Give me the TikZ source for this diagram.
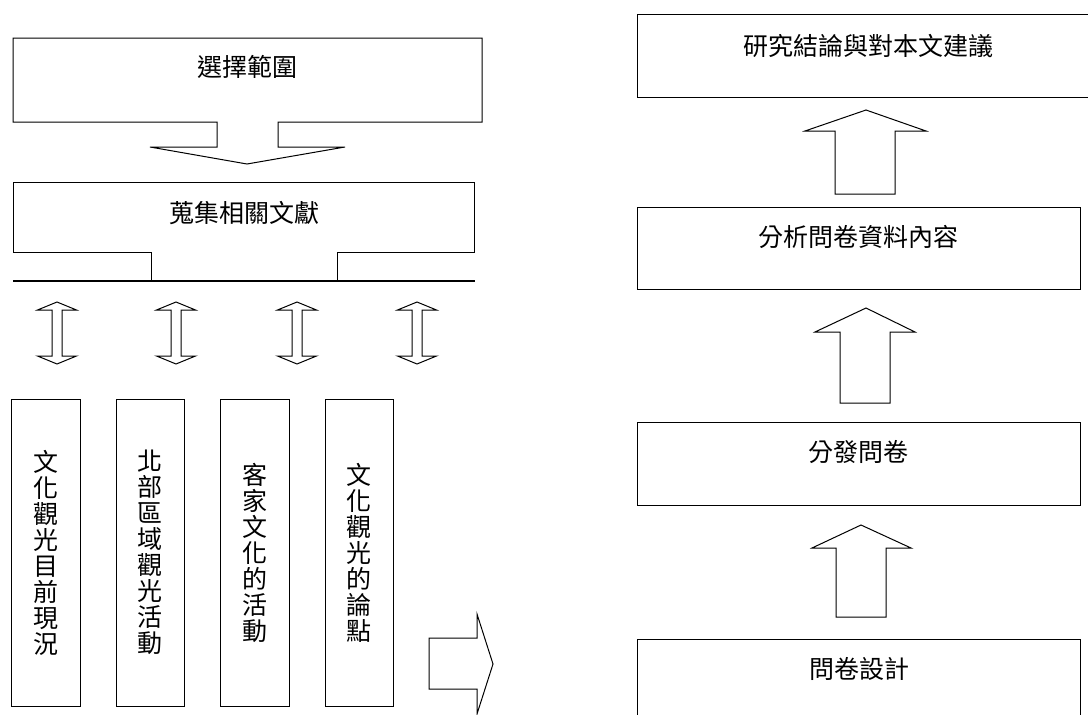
\documentclass[tikz,border=0pt]{standalone}
\usepackage{fontspec}
\newfontfamily\cjk{Noto Sans CJK TC}
\begin{document}
\begin{tikzpicture}[x=1pt,y=-1pt,line width=1pt,
  lbl/.style={inner sep=0pt,font=\cjk\fontsize{25}{26}\selectfont,text height=0.82em,text depth=0.12em},
  vlbl/.style={inner sep=0pt,align=center,font=\cjk\fontsize{25}{26}\selectfont},
  box/.style={draw,line width=1pt,inner sep=0pt},
  blk/.style={draw,line width=1pt,line join=miter,fill=white}]
\useasboundingbox (0,0) rectangle (1088,715);
\clip (0,0) rectangle (1088,715);
% top left box with arrow
\draw[blk] (13,38) -- (482,38) -- (482,122) -- (278,122) -- (278,147) -- (345,147) -- (247,164) -- (150,147) -- (217,147) -- (217,122) -- (13,122) -- cycle;
\node[lbl] (sel) at (247,73) {選擇範圍};
% second box with tab
\draw[blk,fill=none] (151,281) -- (151,252) -- (13,252) -- (13,182) -- (474,182) -- (474,252) -- (337,252) -- (337,281);
\draw[line width=1.6pt] (13,281) -- (475,281);
\node[lbl] (col) at (244,219) {蒐集相關文獻};
% double arrows
\foreach \cx in {57,176,297,417}{
  \draw[blk] (\cx,302) -- (\cx+19.5,310) -- (\cx+5,310) -- (\cx+5,356) -- (\cx+19.5,356) -- (\cx,364)
    -- (\cx-19.5,356) -- (\cx-5,356) -- (\cx-5,310) -- (\cx-19.5,310) -- cycle;
}
% vertical boxes
\node[box,minimum width=69pt,minimum height=307pt] (v1) at (45.5,552.5) {};
\node[box,minimum width=68pt,minimum height=307pt] (v2) at (150,552.5) {};
\node[box,minimum width=69pt,minimum height=307pt] (v3) at (254.5,552.5) {};
\node[box,minimum width=68pt,minimum height=307pt] (v4) at (359,552.5) {};
\node[vlbl] (t1) at (v1.center) {文\\化\\觀\\光\\目\\前\\現\\況};
\node[vlbl] (t2) at (v2.center) {北\\部\\區\\域\\觀\\光\\活\\動};
\node[vlbl] (t3) at (v3.center) {客\\家\\文\\化\\的\\活\\動};
\node[vlbl] (t4) at (v4.center) {文\\化\\觀\\光\\的\\論\\點};
% right arrow
\draw[blk] (429,638) -- (477,638) -- (477,614) -- (493,664) -- (477,714) -- (477,689) -- (429,689) -- cycle;
% right column boxes
\node[box,minimum width=462pt,minimum height=83pt] (r1) at (868,55.5) {};
\node[box,minimum width=443pt,minimum height=82pt] (r2) at (858.5,248) {};
\node[box,minimum width=443pt,minimum height=83pt] (r3) at (858.5,463.5) {};
\node[box,minimum width=443pt,minimum height=91pt] (r4) at (858.5,684.5) {};
\node[lbl] (l1) at (868,52) {研究結論與對本文建議};
\node[lbl] (l2) at (858,243) {分析問卷資料內容};
\node[lbl] (l3) at (858,458) {分發問卷};
\node[lbl] (l4) at (859,675) {問卷設計};
% up arrows
\draw[blk] (866,110) -- (926,131) -- (895,131) -- (895,194) -- (835,194) -- (835,131) -- (805,131) -- cycle;
\draw[blk] (866,308) -- (915,332) -- (890,332) -- (890,403) -- (840,403) -- (840,332) -- (815,332) -- cycle;
\draw[blk] (861,525) -- (911,548) -- (886,548) -- (886,617) -- (836,617) -- (836,548) -- (812,548) -- cycle;
\end{tikzpicture}
\end{document}
